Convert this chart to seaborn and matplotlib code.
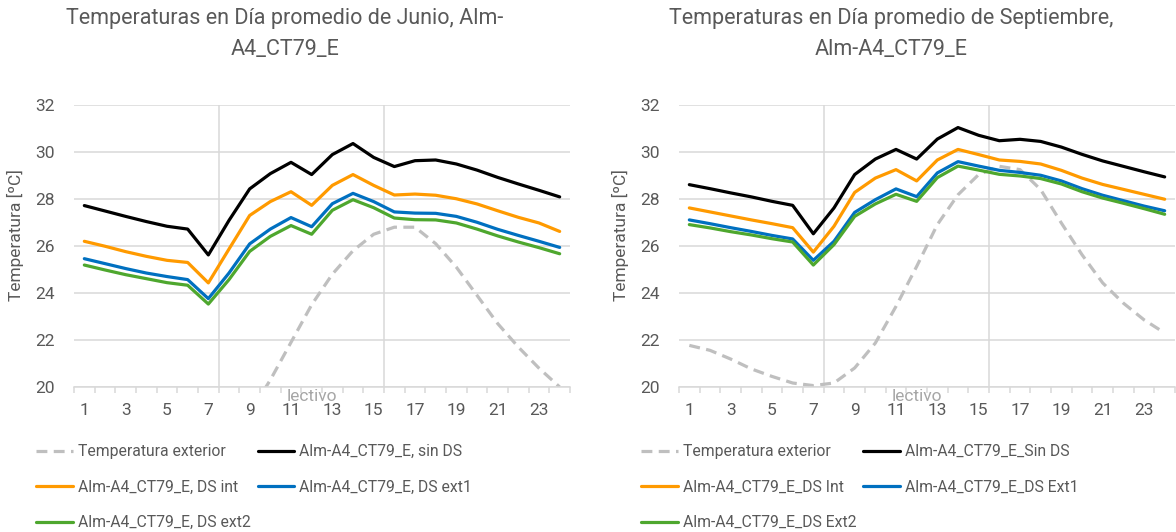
import matplotlib
matplotlib.use("Agg")
import matplotlib.pyplot as plt
from matplotlib.ticker import FixedLocator
import seaborn as sns

# hours of the average day
hours = list(range(1, 25))
xtick_labels = [str(h) for h in range(1, 25, 2)]

# June, Alm-A4_CT79_E
jun_exterior = [18.6, 18.3, 17.9, 17.5, 17.2, 16.9, 16.8, 17.3, 18.9, 20.3, 21.9, 23.5,
                24.8, 25.8, 26.5, 26.8, 26.8, 26.1, 25.1, 23.9, 22.7, 21.7, 20.8, 20.0]
jun_sin_ds = [27.72, 27.49, 27.26, 27.04, 26.84, 26.72, 25.62, 27.09, 28.43, 29.08, 29.56, 29.04,
              29.89, 30.36, 29.77, 29.38, 29.63, 29.66, 29.49, 29.23, 28.92, 28.64, 28.37, 28.09]
jun_ds_int = [26.20, 25.99, 25.76, 25.56, 25.39, 25.30, 24.43, 25.87, 27.30, 27.89, 28.31, 27.73,
              28.58, 29.04, 28.58, 28.17, 28.21, 28.16, 28.01, 27.79, 27.50, 27.22, 26.98, 26.62]
jun_ds_ext1 = [25.46, 25.25, 25.04, 24.85, 24.70, 24.57, 23.76, 24.85, 26.09, 26.72, 27.21, 26.82,
               27.80, 28.24, 27.89, 27.45, 27.40, 27.39, 27.26, 27.01, 26.71, 26.45, 26.20, 25.94]
jun_ds_ext2 = [25.19, 24.98, 24.78, 24.61, 24.44, 24.33, 23.53, 24.57, 25.77, 26.41, 26.87, 26.50,
               27.52, 27.97, 27.63, 27.19, 27.12, 27.11, 26.98, 26.72, 26.43, 26.17, 25.93, 25.67]

# September, Alm-A4_CT79_E
sep_exterior = [21.77, 21.56, 21.19, 20.77, 20.45, 20.17, 20.06, 20.17, 20.81, 21.87, 23.43, 25.13,
                26.91, 28.18, 29.04, 29.39, 29.25, 28.40, 26.98, 25.63, 24.43, 23.57, 22.86, 22.30]
sep_sin_ds = [28.61, 28.44, 28.26, 28.09, 27.90, 27.73, 26.52, 27.62, 29.04, 29.70, 30.11, 29.70,
              30.55, 31.04, 30.71, 30.48, 30.54, 30.45, 30.21, 29.90, 29.62, 29.39, 29.16, 28.94]
sep_ds_int = [27.62, 27.45, 27.28, 27.11, 26.95, 26.78, 25.74, 26.84, 28.28, 28.89, 29.25, 28.77,
              29.66, 30.11, 29.89, 29.66, 29.60, 29.49, 29.22, 28.89, 28.62, 28.41, 28.20, 27.99]
sep_ds_ext1 = [27.11, 26.95, 26.78, 26.62, 26.45, 26.30, 25.39, 26.20, 27.43, 27.97, 28.43, 28.10,
               29.11, 29.59, 29.40, 29.22, 29.13, 29.01, 28.77, 28.44, 28.16, 27.93, 27.70, 27.50]
sep_ds_ext2 = [26.91, 26.77, 26.61, 26.47, 26.31, 26.17, 25.19, 26.06, 27.26, 27.79, 28.20, 27.90,
               28.91, 29.40, 29.23, 29.05, 28.98, 28.87, 28.64, 28.31, 28.04, 27.82, 27.59, 27.35]

# school period ("lectivo") limits
lectivo_limits = [7.5, 15.5]

jun_labels = ["Temperatura exterior", "Alm-A4_CT79_E, sin DS", "Alm-A4_CT79_E, DS int",
              "Alm-A4_CT79_E, DS ext1", "Alm-A4_CT79_E, DS ext2"]
sep_labels = ["Temperatura exterior", "Alm-A4_CT79_E_Sin DS", "Alm-A4_CT79_E_DS Int",
              "Alm-A4_CT79_E_DS Ext1", "Alm-A4_CT79_E_DS Ext2"]

colors = ["#BFBFBF", "#000000", "#FF9A00", "#0070C0", "#4EA72E"]
TEXT = "#595959"
GRID = "#D9D9D9"

sns.set_theme(style="white")
plt.rcParams["font.family"] = ["Roboto", "DejaVu Sans"]


# draw one of the two panels
def draw_panel(ax, series, labels, title, title_x, legend_x, fig):
    for i, (vals, lab) in enumerate(zip(series, labels)):
        if i == 0:
            sns.lineplot(x=hours, y=vals, ax=ax, color=colors[i], lw=2.3, label=lab,
                         linestyle=(0, (3.4, 2.0)), zorder=2)
        else:
            sns.lineplot(x=hours, y=vals, ax=ax, color=colors[i], lw=2.3, label=lab, zorder=3)

    for v in lectivo_limits:
        ax.axvline(v, color=GRID, lw=1.1, zorder=1)

    ax.set_xlim(0.5, 24.5)
    ax.set_ylim(20, 32)
    ax.set_yticks(range(20, 33, 2))
    ax.yaxis.grid(True, color=GRID, lw=1.1)
    ax.xaxis.grid(False)
    for s in ["top", "right", "left"]:
        ax.spines[s].set_visible(False)
    ax.spines["bottom"].set_color(GRID)
    ax.spines["bottom"].set_linewidth(1.1)

    ax.set_xticks(range(1, 25, 2))
    ax.set_xticklabels(xtick_labels)
    ax.xaxis.set_minor_locator(FixedLocator([h + 0.5 for h in range(0, 25)]))
    ax.tick_params(axis="x", which="major", length=0, pad=11.5, labelsize=12.5, labelcolor=TEXT)
    ax.tick_params(axis="x", which="minor", length=4.5, width=1.1, color=GRID, bottom=True)
    ax.tick_params(axis="y", length=0, pad=13.5, labelsize=12.5, labelcolor=TEXT)

    ax.set_xlabel("")
    ax.set_ylabel("Temperatura [ºC]", fontsize=12.5, color=TEXT)
    ax.yaxis.set_label_coords(-0.1, 0.54)

    ax.text(12, 19.92, "lectivo", ha="center", va="top", fontsize=12.5, color="#A6A6A6")

    fig.text(title_x, 0.985, title, ha="center", va="top", fontsize=15.5, color=TEXT,
             linespacing=1.6)

    handles, labs = ax.get_legend_handles_labels()
    ax.get_legend().remove()
    order = [0, 2, 4, 1, 3]
    fig.legend([handles[i] for i in order], [labs[i] for i in order],
               loc="upper left", bbox_to_anchor=(legend_x, 0.165), ncol=2, frameon=False,
               fontsize=11.3, labelcolor=TEXT, borderpad=0, borderaxespad=0,
               handlelength=2.35, handletextpad=0.3, columnspacing=0.45, labelspacing=1.3)


fig = plt.figure(figsize=(11.76, 5.32), dpi=100)
ax1 = fig.add_axes([74 / 1176, 1 - 387 / 532, 496 / 1176, 282 / 532])
ax2 = fig.add_axes([679 / 1176, 1 - 387 / 532, 496 / 1176, 282 / 532])

draw_panel(ax1, [jun_exterior, jun_sin_ds, jun_ds_int, jun_ds_ext1, jun_ds_ext2], jun_labels,
           "Temperaturas en Día promedio de Junio, Alm-\nA4_CT79_E", 285 / 1176, 36 / 1176, fig)
draw_panel(ax2, [sep_exterior, sep_sin_ds, sep_ds_int, sep_ds_ext1, sep_ds_ext2], sep_labels,
           "Temperaturas en Día promedio de Septiembre,\nAlm-A4_CT79_E", 891 / 1176, 641 / 1176, fig)

fig.savefig("out.png", dpi=100, facecolor="white")
